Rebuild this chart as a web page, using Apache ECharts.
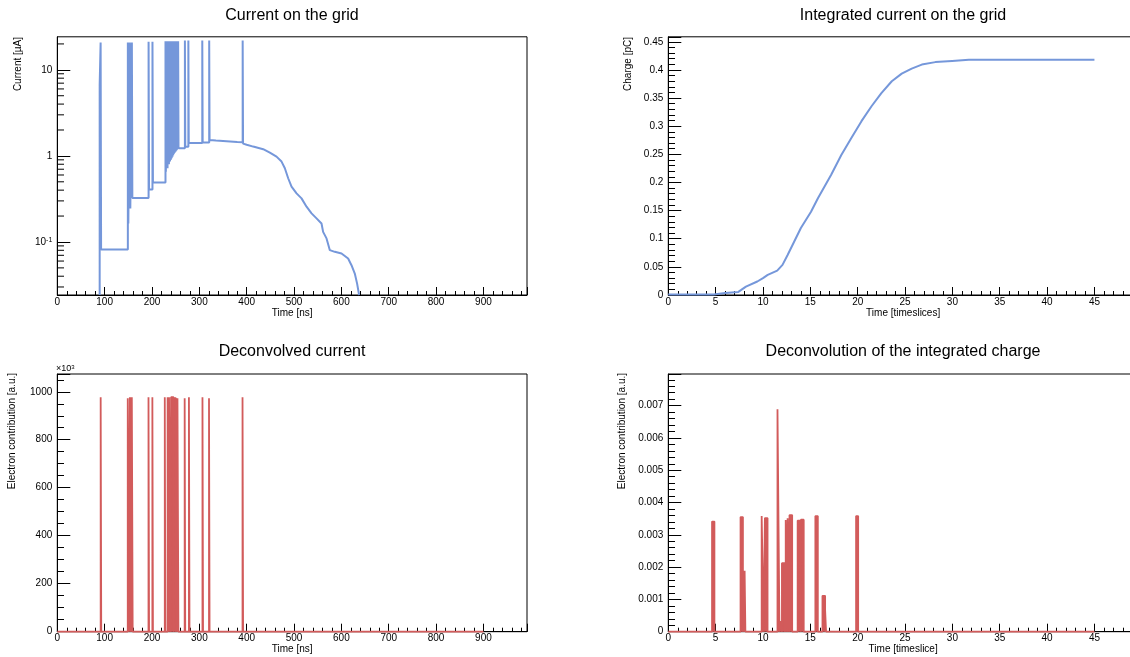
<!DOCTYPE html>
<html><head><meta charset="utf-8">
<style>html,body{margin:0;padding:0;background:#fff}#c{width:1130px;height:657px}</style>
<script src="https://cdn.jsdelivr.net/npm/echarts@6.0.0/dist/echarts.min.js"></script>
</head><body><div id="c"></div>
<script>
const FONT = '"Liberation Sans", Arial, Helvetica, sans-serif';
const BLUE = '#7597da';
const RED = '#d25b5b';

// ---- Top-left: current on the grid [µA] vs time [ns] (histogram outline)
// [time, level]: level holds from this time until the next entry
const currentSteps = [
  [89.5, 6.7], [91.5, 20.8], [92.5, 0.0817],
  [149, 20.8], [150, 0.164],
  [153.2, 20.8], [154.2, 0.245],
  [157.5, 20.8], [158.5, 0.325],
  [192.8, 21.2], [193.8, 0.408],
  [201, 21.2], [202, 0.492],
  [228.5, 21.5], [229.3, 0.653],
  [232, 21.5], [232.8, 0.72],
  [235, 21.5], [235.8, 0.80],
  [237.2, 21.5], [238, 0.86],
  [239.2, 21.5], [240, 0.90],
  [240.8, 21.5], [241.6, 0.94],
  [242.4, 21.5], [243.2, 0.98],
  [244, 21.5], [244.8, 1.02],
  [245.6, 21.5], [246.4, 1.06],
  [247.2, 21.5], [248, 1.09],
  [248.8, 21.5], [249.6, 1.12],
  [250.4, 21.5], [251.2, 1.15],
  [252, 21.5], [252.8, 1.18],
  [253.6, 21.5], [254.4, 1.21],
  [255.2, 21.5], [256, 1.23],
  [269.5, 21.9], [270.3, 1.28],
  [276.8, 21.9], [277.6, 1.41],
  [306.2, 21.9], [307, 1.43],
  [320.8, 21.9]
];
// decaying tail as read vertices [time, current]
const currentTail = [
  [321.6, 1.53], [335, 1.51], [350, 1.49], [365, 1.47], [380, 1.45], [391.5, 1.44],
  [391.5, 21.9], [392.3, 21.9], [392.3, 1.39],
  [400, 1.35], [413.7, 1.283], [434.8, 1.197], [448.9, 1.093], [463, 0.981],
  [473.6, 0.859], [480.6, 0.719], [487.6, 0.55], [494.7, 0.439], [505.3, 0.367],
  [515.8, 0.321], [526.4, 0.257], [537, 0.215], [547.5, 0.188], [558, 0.164],
  [561.4, 0.131], [568.6, 0.11], [575.6, 0.0803], [586.1, 0.0768], [600.3, 0.0734],
  [614.2, 0.0642], [621.3, 0.0537], [628.3, 0.043], [633.2, 0.0328], [637.4, 0.0242]
];
const logMinorTicks = [0.03,0.04,0.05,0.06,0.07,0.08,0.09,0.2,0.3,0.4,0.5,0.6,0.7,0.8,0.9,2,3,4,5,6,7,8,9,20];
const LOG_MIN = 0.0242, LOG_MAX = 24.2;

// ---- Top-right: integrated charge [pC] vs time [timeslices]
const chargeCurve = [
  [0, 0.0008], [4.8, 0.0008], [5.0, 0.003], [6.0, 0.0035], [7.4, 0.0055], [7.7, 0.009],
  [8.2, 0.015], [9.4, 0.024], [10.0, 0.03], [10.5, 0.0357], [11.5, 0.0434], [12.06, 0.0535],
  [12.6, 0.071], [13.3, 0.095], [14.0, 0.119], [15.07, 0.148], [15.8, 0.172], [17.2, 0.2137],
  [18.27, 0.249], [19.33, 0.279], [20.4, 0.309], [21.46, 0.3355], [22.5, 0.359], [23.6, 0.380],
  [24.65, 0.3935], [25.7, 0.4025], [26.77, 0.4096], [28.2, 0.414], [29.97, 0.416], [31.74, 0.418],
  [45, 0.418]
];

// ---- Bottom-left: deconvolved current, pulses [start ns, end ns, value a.u.]
const deconvPulses = [
  [91.6, 92.8, 977000], [148.8, 150, 973000],
  [153.2, 154.6, 977000], [155.2, 156.8, 977000], [157.4, 159.2, 977000],
  [192.6, 193.8, 977000], [200.8, 202, 977000], [227, 228.2, 977000],
  [233, 235.4, 977000], [236, 239.6, 977000], [240.2, 245.6, 977000],
  [246.2, 250.6, 973000], [251.2, 253.2, 973000], [253.8, 255.8, 973000],
  [269, 270.2, 973000], [278, 279.2, 977000], [306.6, 307.8, 977000],
  [320.4, 321.6, 973000], [391.2, 392.4, 977000]
];
const deconvEnd = 900;

// ---- Bottom-right: deconvolution of integrated charge, pulses [start, end, value]
const slicePulses = [
  [4.62, 4.87, 0.00341], [7.63, 7.88, 0.00355],
  [7.90, 7.98, 0.00165], [7.98, 8.06, 0.00176], [8.06, 8.14, 0.00189],
  [9.86, 10.07, 0.00358], [10.2, 10.48, 0.00352],
  [11.53, 11.74, 0.00689], [11.88, 12.0, 0.00033],
  [12.0, 12.28, 0.00212], [12.28, 12.4, 0.00148], [12.4, 12.6, 0.00346],
  [12.6, 12.8, 0.00351], [12.8, 13.08, 0.00361],
  [13.66, 13.98, 0.00344], [14.0, 14.3, 0.00347],
  [15.53, 15.79, 0.00358], [16.28, 16.56, 0.00111], [16.56, 16.66, 0.00067],
  [19.83, 20.05, 0.00358]
];
const sliceEnd = 45;

// ---- build paths
const currentPath = [[currentSteps[0][0], LOG_MIN]];
currentSteps.forEach((s, i) => {
  const next = i + 1 < currentSteps.length ? currentSteps[i + 1][0] : currentTail[0][0];
  currentPath.push([s[0], s[1]], [next, s[1]]);
});
currentTail.forEach(p => currentPath.push(p));

function pulsesToPath(pulses, xEnd) {
  const path = [[0, 0]];
  pulses.forEach(p => { path.push([p[0], 0], [p[0], p[2]], [p[1], p[2]], [p[1], 0]); });
  path.push([xEnd, 0]);
  return path;
}
const deconvPath = pulsesToPath(deconvPulses, deconvEnd);
const slicePath = pulsesToPath(slicePulses, sliceEnd);

// ---- layout
const grids = [
  {left: 57.3, top: 36.8, width: 469.7, height: 258.2},
  {left: 668.3, top: 36.8, width: 469.7, height: 258.2},
  {left: 57.3, top: 374, width: 469.7, height: 257.7},
  {left: 668.3, top: 374, width: 469.7, height: 257.7}
].map(g => Object.assign({show: true, borderColor: '#000', borderWidth: 1, backgroundColor: 'transparent', containLabel: false, outerBoundsMode: 'none'}, g));

function xAx(gi, max, interval, name) {
  return {
    type: 'value', gridIndex: gi, min: 0, max: max, interval: interval,
    name: name, nameLocation: 'middle', nameGap: 11,
    nameTextStyle: {fontSize: 10, color: '#000', fontFamily: FONT},
    axisLine: {show: true, onZero: false, lineStyle: {color: '#000', width: 1}},
    axisTick: {show: true, inside: true, length: 8, lineStyle: {color: '#000', width: 1}},
    minorTick: {show: true, splitNumber: 5, length: 4, lineStyle: {color: '#000', width: 1}},
    axisLabel: {fontSize: 10, color: '#000', margin: 2, fontFamily: FONT, showMaxLabel: false, showMinLabel: true},
    splitLine: {show: false}, minorSplitLine: {show: false}
  };
}
function yAx(gi, max, interval, minorSplit, formatter) {
  const a = {
    type: 'value', gridIndex: gi, min: 0, max: max, interval: interval,
    axisLine: {show: true, onZero: false, lineStyle: {color: '#000', width: 1}},
    axisTick: {show: true, inside: true, length: 13, lineStyle: {color: '#000', width: 1}},
    minorTick: {show: true, splitNumber: minorSplit, length: 6.7, lineStyle: {color: '#000', width: 1}},
    axisLabel: {fontSize: 10, color: '#000', margin: 5, fontFamily: FONT, showMaxLabel: false},
    splitLine: {show: false}, minorSplitLine: {show: false}
  };
  if (formatter) a.axisLabel.formatter = formatter;
  return a;
}

const logY = {
  type: 'log', gridIndex: 0, min: LOG_MIN, max: LOG_MAX, logBase: 10,
  axisLine: {show: true, onZero: false, lineStyle: {color: '#000', width: 1}},
  axisTick: {show: true, inside: true, length: 13, lineStyle: {color: '#000', width: 1}},
  minorTick: {show: false},
  axisLabel: {
    fontSize: 10, color: '#000', margin: 5, fontFamily: FONT, showMaxLabel: false, showMinLabel: false,
    formatter: v => {
      if (Math.abs(v - 10) < 1e-6) return '10';
      if (Math.abs(v - 1) < 1e-6) return '1';
      if (Math.abs(v - 0.1) < 1e-6) return '10{s|-1}';
      return '';
    },
    rich: {s: {fontSize: 7, verticalAlign: 'top', fontFamily: FONT, color: '#000'}}
  },
  splitLine: {show: false}, minorSplitLine: {show: false}
};

function titleText(x, y, t) {
  return {type: 'text', x: x, y: y, silent: true,
    style: {text: t, fill: '#000', font: '16px ' + FONT, align: 'center', verticalAlign: 'middle'}};
}
function yName(x, y, t) {
  return {type: 'text', x: x, y: y, rotation: Math.PI / 2, silent: true,
    style: {text: t, fill: '#000', font: '10px ' + FONT, align: 'right', verticalAlign: 'middle'}};
}

const chart = echarts.init(document.getElementById('c'), null, {renderer: 'canvas'});
chart.setOption({
  animation: false,
  backgroundColor: '#fff',
  textStyle: {fontFamily: FONT},
  grid: grids,
  xAxis: [
    xAx(0, 992, 100, 'Time [ns]'),
    xAx(1, 49.6, 5, 'Time [timeslices]'),
    xAx(2, 992, 100, 'Time [ns]'),
    xAx(3, 49.6, 5, 'Time [timeslice]')
  ],
  yAxis: [
    logY,
    yAx(1, 0.459, 0.05, 5),
    yAx(2, 1074000, 200000, 4, v => String(Math.round(v / 1000))),
    yAx(3, 0.00798, 0.001, 5)
  ],
  graphic: [
    titleText(292, 15.5, 'Current on the grid'),
    titleText(903, 15.5, 'Integrated current on the grid'),
    titleText(292, 352, 'Deconvolved current'),
    titleText(903, 352, 'Deconvolution of the integrated charge'),
    yName(18, 37, 'Current [µA]'),
    yName(628, 37, 'Charge [pC]'),
    yName(12.5, 373, 'Electron contribution [a.u.]'),
    yName(622.5, 373, 'Electron contribution [a.u.]'),
    {type: 'text', x: 56, y: 369, silent: true,
      style: {text: '×10{s|3}', fill: '#000', font: '9px ' + FONT, align: 'left', verticalAlign: 'middle',
        rich: {s: {fontSize: 6, verticalAlign: 'top', fill: '#000'}}}}
  ],
  series: [
    {type: 'line', xAxisIndex: 0, yAxisIndex: 0, data: currentPath, showSymbol: false, symbol: 'none',
      lineStyle: {color: BLUE, width: 2}, itemStyle: {color: BLUE}, clip: true, silent: true},
    {type: 'custom', xAxisIndex: 0, yAxisIndex: 0, silent: true, clip: true,
      data: logMinorTicks.map(v => [0, v]), encode: {x: 0, y: 1},
      renderItem: (params, api) => {
        const p = api.coord([0, api.value(1)]);
        return {type: 'line', shape: {x1: p[0], y1: p[1], x2: p[0] + 6.7, y2: p[1]},
          style: {stroke: '#000', lineWidth: 1}};
      }},
    {type: 'line', xAxisIndex: 1, yAxisIndex: 1, data: chargeCurve, showSymbol: false, symbol: 'none',
      lineStyle: {color: BLUE, width: 2}, itemStyle: {color: BLUE}, clip: false, silent: true},
    {type: 'line', xAxisIndex: 2, yAxisIndex: 2, data: deconvPath, showSymbol: false, symbol: 'none',
      lineStyle: {color: RED, width: 1.8}, itemStyle: {color: RED},
      areaStyle: {color: RED, opacity: 1}, clip: false, silent: true},
    {type: 'line', xAxisIndex: 3, yAxisIndex: 3, data: slicePath, showSymbol: false, symbol: 'none',
      lineStyle: {color: RED, width: 1.8}, itemStyle: {color: RED},
      areaStyle: {color: RED, opacity: 1}, clip: false, silent: true}
  ]
});
</script></body></html>
